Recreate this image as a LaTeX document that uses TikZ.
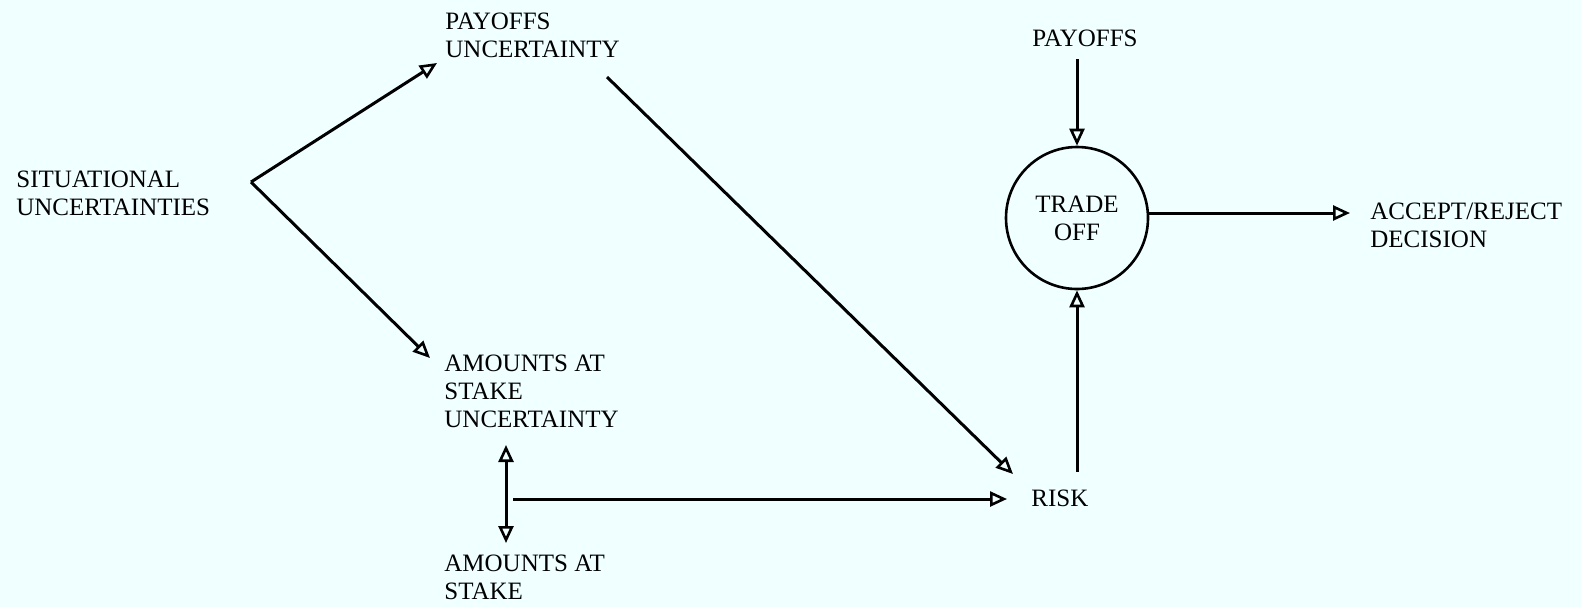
\documentclass[tikz,border=0pt]{standalone}
\usepackage{fontspec}
\setmainfont{Liberation Serif}
\usetikzlibrary{arrows.meta}
\definecolor{bgc}{RGB}{240,255,255}
\begin{document}
\begin{tikzpicture}[x=0.5pt,y=-0.5pt,
  lbl/.style={anchor=north west,inner sep=0pt,align=left,font=\fontsize{12.5}{14}\selectfont},
  tip/.style={Triangle[open,length=8.5pt,width=7.5pt,line width=1.3pt]},
  conn/.style={line width=1.5pt,-{Triangle[open,length=8.5pt,width=7.5pt,line width=1.3pt]}},
  dconn/.style={line width=1.5pt,{Triangle[open,length=8.5pt,width=7.5pt,line width=1.3pt]}-{Triangle[open,length=8.5pt,width=7.5pt,line width=1.3pt]}}]
\fill[bgc] (0,0) rectangle (1581,607);
\useasboundingbox (0,0) rectangle (1581,607);

\node[lbl] (sit) at (16,171) {SITUATIONAL\\UNCERTAINTIES};
\node[lbl] (pu) at (445,13) {PAYOFFS\\UNCERTAINTY};
\node[lbl] (asu) at (444,355) {AMOUNTS AT\\STAKE\\UNCERTAINTY};
\node[lbl] (as) at (444,555) {AMOUNTS AT\\STAKE};
\node[lbl] (pay) at (1032,30) {PAYOFFS};
\node[lbl] (ad) at (1370,203) {ACCEPT/REJECT\\DECISION};
\node[lbl] (risk) at (1031,490) {RISK};
\node[circle,draw,line width=1.3pt,minimum size=71pt,inner sep=0pt,align=center,
  font=\fontsize{12.5}{14}\selectfont] (to) at (1077,218) {TRADE\\OFF};

\coordinate (br) at (251,182);
\coordinate (puin) at (437,63);
\coordinate (puout) at (607,77);
\coordinate (asuin) at (430,358);
\coordinate (asuout) at (506,445);
\coordinate (asin) at (506,543);
\coordinate (hstart) at (513,499);
\coordinate (riskin1) at (1013,474);
\coordinate (riskin2) at (1007,499);
\coordinate (riskout) at (1077,472);
\coordinate (payout) at (1077,59);
\coordinate (adin) at (1350,213);

\draw[conn] (br) -- (puin);
\draw[conn] (br) -- (asuin);
\draw[conn] (puout) -- (riskin1);
\draw[dconn] (asuout) -- (asin);
\draw[conn] (hstart) -- (riskin2);
\draw[conn] (riskout) -- (riskout |- to.south);
\draw[conn] (payout) -- (payout |- to.north);
\draw[conn] (to.east |- adin) -- (adin);
\end{tikzpicture}
\end{document}
